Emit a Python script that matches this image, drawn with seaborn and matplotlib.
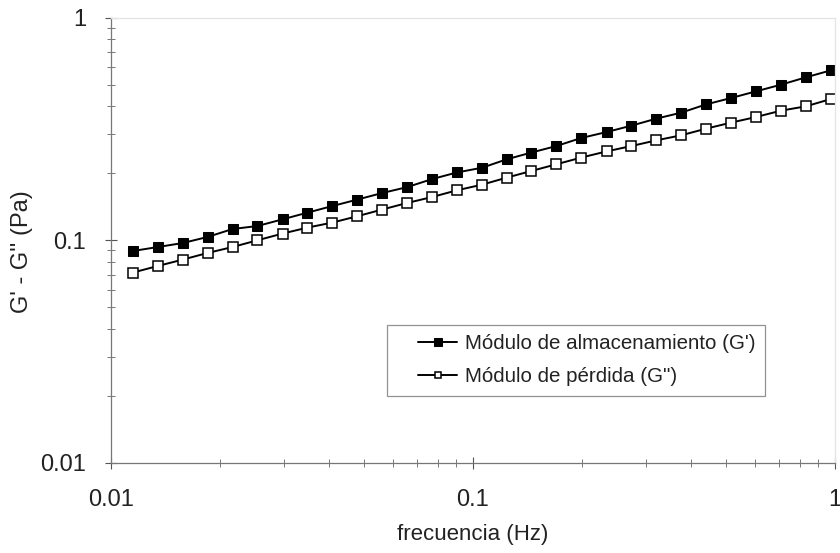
import numpy as np
import pandas as pd
import seaborn as sns
import matplotlib.pyplot as plt
from matplotlib.legend_handler import HandlerLine2D
from matplotlib.ticker import LogLocator, FixedLocator, FixedFormatter, NullFormatter

# frequency sweep (Hz)
freq = [0.0115, 0.0135, 0.0158, 0.0185, 0.0217, 0.0254, 0.0298, 0.0349,
        0.0409, 0.0479, 0.0561, 0.0658, 0.0771, 0.0903, 0.106, 0.124,
        0.145, 0.170, 0.199, 0.234, 0.274, 0.321, 0.376, 0.441, 0.516,
        0.605, 0.709, 0.831, 0.974]

# storage modulus G' (Pa)
g_storage = [0.0895, 0.0933, 0.0972, 0.1035, 0.1124, 0.1159, 0.1242, 0.1331,
             0.1425, 0.1523, 0.1630, 0.1733, 0.1883, 0.2017, 0.2118, 0.2311,
             0.2478, 0.2651, 0.2880, 0.3064, 0.3273, 0.3519, 0.3744, 0.4080,
             0.4355, 0.4667, 0.5000, 0.5395, 0.580]

# loss modulus G'' (Pa)
g_loss = [0.0716, 0.0767, 0.0819, 0.0877, 0.0933, 0.1000, 0.1072, 0.1140,
          0.1201, 0.1282, 0.1374, 0.1471, 0.1564, 0.1677, 0.1778, 0.1912,
          0.2048, 0.2195, 0.2352, 0.2508, 0.2651, 0.2812, 0.2962, 0.3174,
          0.3377, 0.3578, 0.3822, 0.3997, 0.4311]

label_storage = "Módulo de almacenamiento (G')"
label_loss = 'Módulo de pérdida (G")'
major_ticks = [0.01, 0.1, 1]
major_labels = ['0.01', '0.1', '1']


def main():
    sns.set_style('ticks')
    plt.rcParams['font.family'] = ['Liberation Sans', 'DejaVu Sans']

    df = pd.DataFrame({'freq': freq, 'gp': g_storage, 'gpp': g_loss})

    fig = plt.figure(figsize=(8.4, 5.53), dpi=100)
    ax = fig.add_axes([0.132, 0.163, 0.862, 0.805])

    sns.lineplot(data=df, x='freq', y='gp', ax=ax, color='black', lw=1.4,
                 marker='s', markersize=7, markerfacecolor='black',
                 markeredgecolor='black', label=label_storage)
    sns.lineplot(data=df, x='freq', y='gpp', ax=ax, color='black', lw=1.4,
                 marker='s', markersize=6.5, markerfacecolor='white',
                 markeredgecolor='black', markeredgewidth=1.1,
                 label=label_loss)

    ax.set_xscale('log')
    ax.set_yscale('log')
    ax.set_xlim(0.01, 1)
    ax.set_ylim(0.01, 1)

    for axis in (ax.xaxis, ax.yaxis):
        axis.set_major_locator(FixedLocator(major_ticks))
        axis.set_major_formatter(FixedFormatter(major_labels))
        axis.set_minor_locator(LogLocator(base=10, subs=np.arange(2, 10)))
        axis.set_minor_formatter(NullFormatter())

    ax.tick_params(which='major', direction='inout', length=8, width=0.8,
                   color='#555555', labelsize=17, labelcolor='#222222')
    ax.tick_params(which='minor', direction='inout', length=6, width=0.7,
                   color='#777777')
    ax.tick_params(axis='x', which='major', pad=14.5)
    ax.tick_params(axis='y', which='major', pad=14)

    for side in ('left', 'bottom'):
        ax.spines[side].set_color('#777777')
        ax.spines[side].set_linewidth(0.9)
    for side in ('top', 'right'):
        ax.spines[side].set_color('#e4e4e4')
        ax.spines[side].set_linewidth(0.9)

    ax.set_xlabel('frecuencia (Hz)', fontsize=16, color='#222222', labelpad=10)
    ax.set_ylabel("G' - G'' (Pa)", fontsize=17, color='#222222')
    ax.yaxis.set_label_coords(-0.108, 0.474)

    # handles shifted right inside the frame, as in the original legend
    hmap = {h: HandlerLine2D(xpad=1.07) for h in ax.get_lines()}
    leg = ax.legend(loc='upper left', bbox_to_anchor=(0.381, 0.31),
                    borderaxespad=0, fontsize=14.8, frameon=True,
                    fancybox=False, edgecolor='#777777', handlelength=2.98,
                    handletextpad=0.4, borderpad=0.45, labelspacing=0.7,
                    markerscale=0.75, handler_map=hmap)
    leg.get_frame().set_linewidth(0.9)
    for t in leg.get_texts():
        t.set_color('#222222')

    fig.savefig('out.png', dpi=100)


if __name__ == '__main__':
    main()
